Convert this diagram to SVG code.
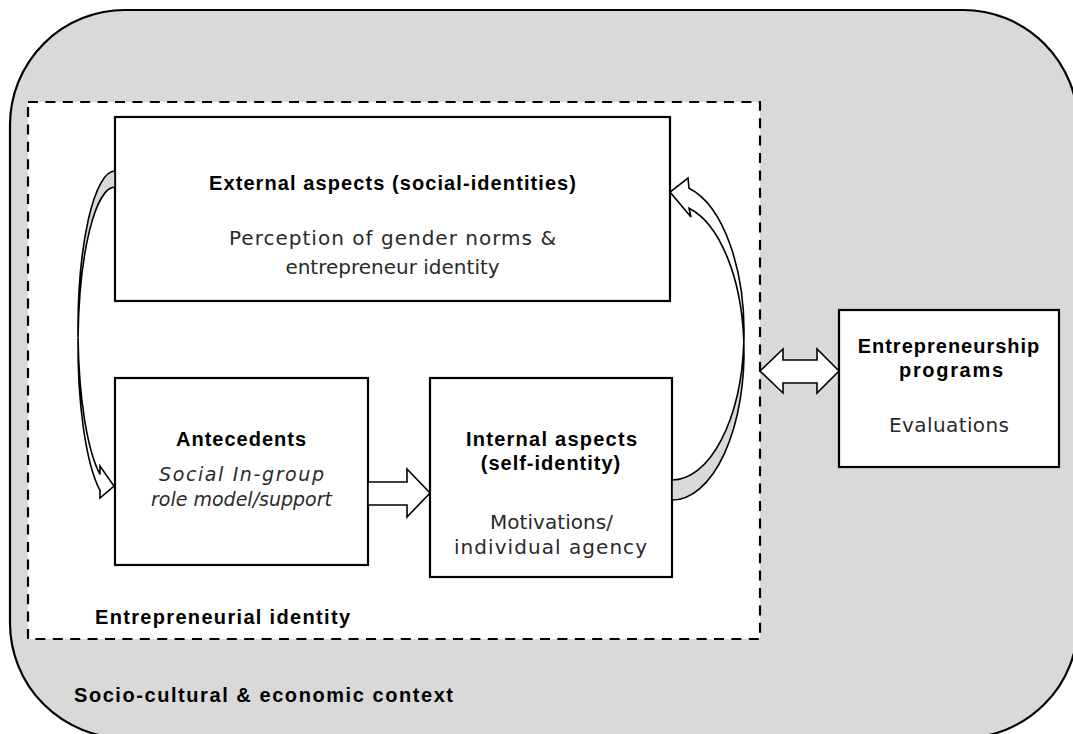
<svg xmlns="http://www.w3.org/2000/svg" width="1073" height="734" viewBox="0 0 1073 734">
  <style>
    .box { fill: #ffffff; stroke: #000000; stroke-width: 2.2; }
    .arrow { fill: #ffffff; stroke: #000000; stroke-width: 1.6; stroke-linejoin: miter; }
    .back { fill: #d9d9d9; stroke: #000000; stroke-width: 1.6; }
    .hd { font-family: "Liberation Sans", Arial, sans-serif; font-weight: bold; font-size: 20px; fill: #000000; }
    .tx { font-family: "DejaVu Sans", "Liberation Sans", sans-serif; font-size: 20px; fill: #2a2a2a; }
    .it { font-family: "DejaVu Sans", "Liberation Sans", sans-serif; font-style: italic; font-size: 19px; fill: #2a2a2a; }
  </style>

  <!-- context background -->
  <g id="context">
    <rect x="10" y="10" width="1068" height="728" rx="115" ry="115" fill="#d9d9d9" stroke="#000000" stroke-width="2.2"/>
    <text class="hd" x="74" y="702" textLength="379" lengthAdjust="spacing">Socio-cultural &amp; economic context</text>
  </g>

  <!-- entrepreneurial identity frame -->
  <g id="identity-frame">
    <rect x="28" y="102" width="732" height="537" fill="#ffffff" stroke="#000000" stroke-width="2.2" stroke-dasharray="10 7.4"/>
    <text class="hd" x="95" y="624" textLength="255" lengthAdjust="spacing">Entrepreneurial identity</text>
  </g>

  <g id="external">
    <rect class="box" x="115" y="117" width="555" height="184"/>
    <text class="hd" x="209" y="190" textLength="367" lengthAdjust="spacing">External aspects (social-identities)</text>
    <text class="tx" x="229" y="245" textLength="327" lengthAdjust="spacing">Perception of gender norms &amp;</text>
    <text class="tx" x="392.5" y="274" text-anchor="middle">entrepreneur identity</text>
  </g>

  <g id="antecedents">
    <rect class="box" x="115" y="378" width="253" height="187"/>
    <text class="hd" x="241.5" y="446" text-anchor="middle" letter-spacing="1">Antecedents</text>
    <text class="it" x="159" y="481" textLength="165" lengthAdjust="spacing">Social In-group</text>
    <text class="it" x="151" y="506" textLength="181" lengthAdjust="spacing">role model/support</text>
  </g>

  <g id="internal">
    <rect class="box" x="430" y="378" width="242" height="199"/>
    <text class="hd" x="466" y="446" textLength="171" lengthAdjust="spacing">Internal aspects</text>
    <text class="hd" x="551" y="470" text-anchor="middle" letter-spacing="1">(self-identity)</text>
    <text class="tx" x="490" y="529" textLength="123" lengthAdjust="spacing">Motivations/</text>
    <text class="tx" x="454" y="554" textLength="193" lengthAdjust="spacing">individual agency</text>
  </g>

  <g id="programs">
    <rect class="box" x="839" y="310" width="220" height="157"/>
    <text class="hd" x="949" y="353" text-anchor="middle" letter-spacing="1">Entrepreneurship</text>
    <text class="hd" x="899" y="377" textLength="104" lengthAdjust="spacing">programs</text>
    <text class="tx" x="889" y="432" textLength="120" lengthAdjust="spacing">Evaluations</text>
  </g>

  <g id="connectors">
    <!-- external aspects feed the antecedents (curved ribbon, left side) -->
    <path class="back" d="M115,171 A37,158.5 0 0 0 78.05,337.5 A37,158.5 0 0 1 115,187 Z"/>
    <path class="arrow" d="M78.05,337.5 A37,158.5 0 0 0 100,490.4 L100,498 L114,486 L100,466 L100,474.4 A37,158.5 0 0 1 78.05,337.5 Z"/>

    <!-- antecedents to internal aspects -->
    <polygon class="arrow" points="368,482 407,482 407,469 430,493 407,517 407,505 368,505"/>

    <!-- internal aspects feed back to external aspects (curved ribbon, right side) -->
    <path class="back" d="M672,500 A72,148 0 0 0 743.84,342 A72,148 0 0 1 672,480 Z"/>
    <path class="arrow" d="M743.84,342 A72,148 0 0 0 689,188.2 L688,178 L670,192 L691,217 L689,208.2 A72,148 0 0 1 743.84,342 Z"/>

    <!-- two-way link with the programs -->
    <polygon class="arrow" points="760,371 783,349 783,360 817,360 817,349 839,371 817,393 817,383 783,383 783,393"/>
  </g>
</svg>
